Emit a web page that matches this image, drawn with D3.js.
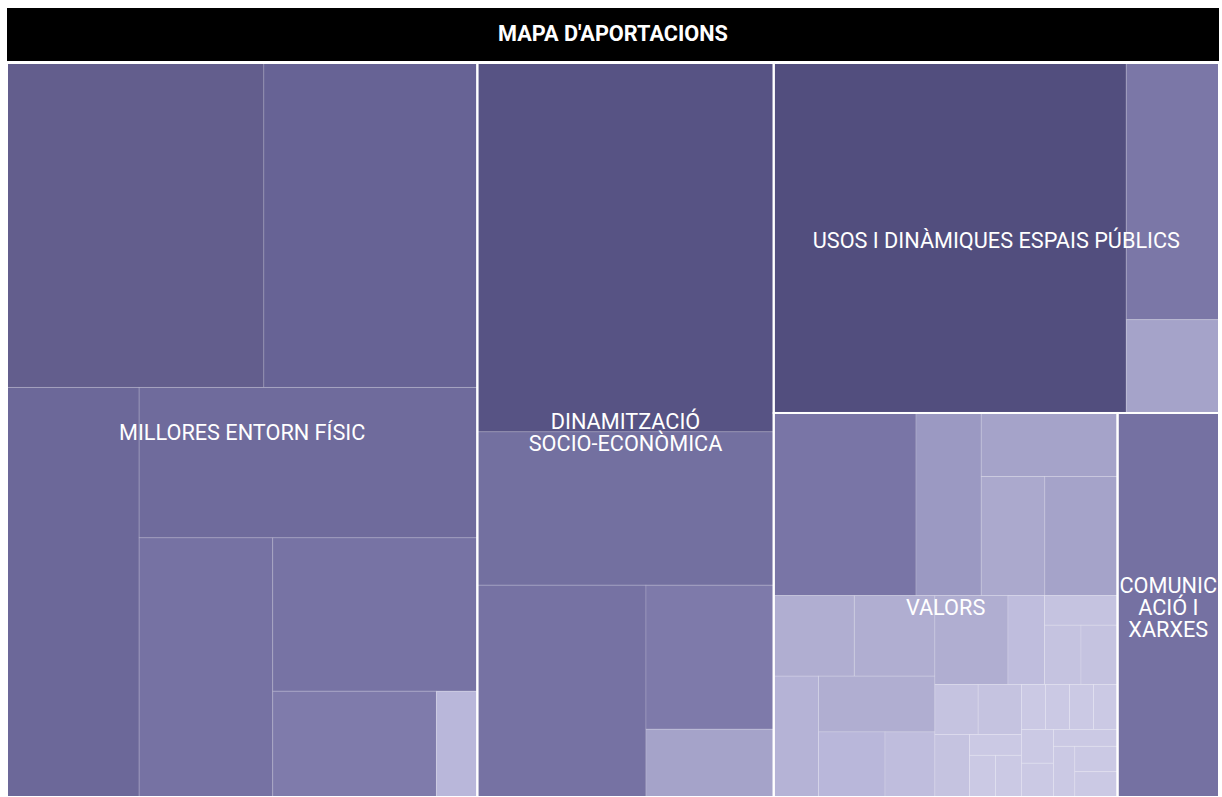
<!DOCTYPE html>
<html>
<head>
<meta charset="utf-8">
<script src="https://cdn.jsdelivr.net/npm/d3@7"></script>
<style>
	html, body { margin: 0; padding: 0; background: #fff; overflow: hidden; }
	svg { display: block; font-family: Roboto, "Noto Sans", sans-serif; }
</style>
</head>
<body>
<svg id="chart" width="1222" height="797"></svg>
<script>

var title = "MAPA D'APORTACIONS";

var categories = [
	"MILLORES ENTORN FÍSIC",
	"DINAMITZACIÓ SOCIO-ECONÒMICA",
	"USOS I DINÀMIQUES ESPAIS PÚBLICS",
	"VALORS",
	"COMUNICACIÓ I XARXES"
];

// how each label wraps inside its block
var labelLines = [
	["MILLORES ENTORN FÍSIC"],
	["DINAMITZACIÓ", "SOCIO-ECONÒMICA"],
	["USOS I DINÀMIQUES ESPAIS PÚBLICS"],
	["VALORS"],
	["COMUNIC", "ACIÓ I", "XARXES"]
];

// aportacions per leaf, nested the same way the blocks are cut
var millores = [[77, 64], [50, [47, [32, [29, [16, 4]]]]]];
var dinamitzacio = [101, 42, 33, 17, 8];
var usos = [114, 22, 8];
var valors = [
	[24, 11, [8, [7, 8]]],
	[
		[[6, 6], [5, [6, [4, 3]]]],
		[
			[6, 3, [2, [2, 2]]],
			[
				[[2, 2], [2, [1, [1, 1]]]],
				[[1, 1, 1, 1], [[1, 1], [1, [1, [1, 1]]]]]
			]
		]
	]
];
var comunicacio = [36];

var groups = [millores, dinamitzacio, usos, valors, comunicacio];

var margin = {top: 63, left: 7},
	width = 1212,
	height = 734;

var color = d3.scaleLinear()
	.domain([1, 2, 4, 6, 8, 11, 16, 24, 33, 42, 50, 64, 77, 101, 114])
	.range(["#cbc9e4", "#c5c3e0", "#b9b7da", "#b0aed1", "#a5a3c9", "#9b99c2", "#7f7bab",
		"#7975a6", "#7672a3", "#7370a0", "#6c6899", "#676395", "#635e8d", "#575384", "#524e7e"])
	.clamp(true);

function toNode(v) {
	if (Array.isArray(v)) return {children: v.map(toNode)};
	return {value: v};
}

var rootData = {
	children: categories.map(function(c, i) {
		var n = toNode(groups[i]);
		n.name = c;
		n.lines = labelLines[i];
		return n;
	})
};

var root = d3.hierarchy(rootData).sum(function(d) { return d.value || 0; });

d3.treemap()
	.tile(d3.treemapBinary)
	.size([width, height])(root);

var svg = d3.select("#chart");

// title bar
svg.append("rect")
	.attr("x", 7)
	.attr("y", 8)
	.attr("width", width)
	.attr("height", 53)
	.attr("fill", "#000");

svg.append("text")
	.attr("x", 7 + width / 2)
	.attr("y", 40.7)
	.attr("text-anchor", "middle")
	.attr("fill", "#fff")
	.style("font-size", "21.7px")
	.style("font-weight", "bold")
	.text(title);

var g = svg.append("g")
	.attr("transform", "translate(" + margin.left + "," + margin.top + ")");

g.selectAll(".leaf")
	.data(root.leaves())
	.enter().append("rect")
	.attr("class", "leaf")
	.attr("x", function(d) { return d.x0; })
	.attr("y", function(d) { return d.y0; })
	.attr("width", function(d) { return d.x1 - d.x0; })
	.attr("height", function(d) { return d.y1 - d.y0; })
	.attr("fill", function(d) { return color(d.value); })
	.attr("stroke", "rgba(255,255,255,0.16)")
	.attr("stroke-width", 1);

g.selectAll(".group")
	.data(root.children)
	.enter().append("rect")
	.attr("class", "group")
	.attr("x", function(d) { return d.x0; })
	.attr("y", function(d) { return d.y0; })
	.attr("width", function(d) { return d.x1 - d.x0; })
	.attr("height", function(d) { return d.y1 - d.y0; })
	.attr("fill", "none")
	.attr("stroke", "#fff")
	.attr("stroke-width", 2);

var lineH = 22;

var labels = g.selectAll(".label")
	.data(root.children)
	.enter().append("text")
	.attr("class", "label")
	.attr("text-anchor", "middle")
	.attr("fill", "#fff")
	.style("font-size", "21.7px");

labels.each(function(d) {
	var cx = (d.x0 + d.x1) / 2,
		cy = (d.y0 + d.y1) / 2,
		n = d.data.lines.length,
		first = cy - (n - 1) * lineH / 2 + 10;
	d3.select(this).selectAll("tspan")
		.data(d.data.lines)
		.enter().append("tspan")
		.attr("x", cx)
		.attr("y", function(l, i) { return first + i * lineH; })
		.text(function(l) { return l; });
});

</script>
</body>
</html>
